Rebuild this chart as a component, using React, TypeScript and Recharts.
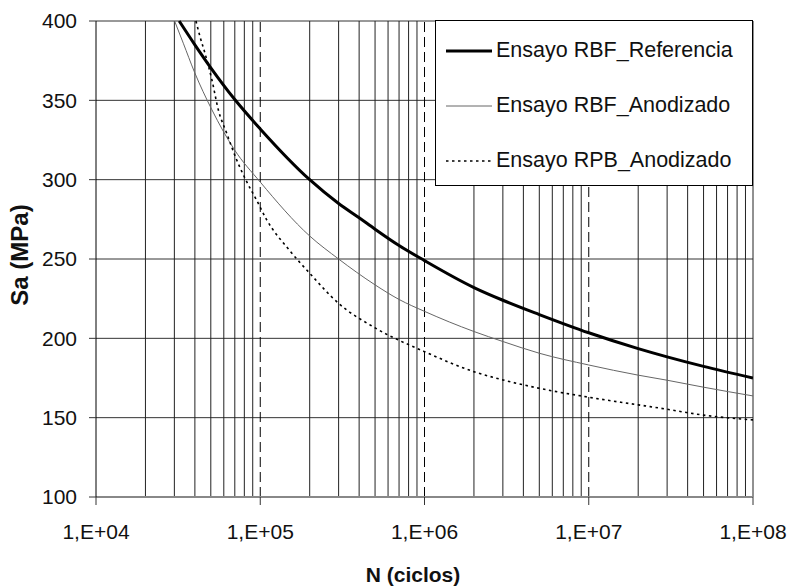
import React from "react";
import {
  LineChart,
  Line,
  XAxis,
  YAxis,
  CartesianGrid,
  ReferenceLine,
  Label,
} from "recharts";

// decade ticks on the log axis
const decadeN = [1e4, 1e5, 1e6, 1e7, 1e8];
const decadeLabels = ["1,E+04", "1,E+05", "1,E+06", "1,E+07", "1,E+08"];
const dashedN = [1e5, 1e6, 1e7];
const minorN = [
  2e4, 3e4, 4e4, 5e4, 6e4, 7e4, 8e4, 9e4,
  2e5, 3e5, 4e5, 5e5, 6e5, 7e5, 8e5, 9e5,
  2e6, 3e6, 4e6, 5e6, 6e6, 7e6, 8e6, 9e6,
  2e7, 3e7, 4e7, 5e7, 6e7, 7e7, 8e7, 9e7,
];
const saTicks = [100, 150, 200, 250, 300, 350, 400];

// Ensayo RBF_Referencia
const refN = [32100, 40000, 50000, 70000, 1e5, 2e5, 3e5, 4e5, 5e5, 7e5, 1e6, 2e6, 3e6, 5e6, 1e7, 2e7, 3e7, 5e7, 1e8];
const refSa = [400, 385, 370.5, 350.5, 332, 300, 285, 276, 268.8, 258.5, 249, 232, 224, 215, 203.5, 193.5, 188.3, 182.3, 175];

// Ensayo RBF_Anodizado
const anoN = [30100, 34000, 39700, 50800, 69500, 1e5, 2e5, 3e5, 5e5, 7e5, 1e6, 2e6, 3e6, 5e6, 1e7, 2e7, 3e7, 5e7, 1e8];
const anoSa = [400, 386, 368, 344, 319, 298.5, 264.5, 250, 233.7, 224.5, 217, 204.3, 198, 190.6, 183.2, 176.8, 173.6, 169.2, 163.7];

// Ensayo RPB_Anodizado
const rpbN = [40600, 43000, 46100, 50800, 55600, 62500, 71900, 82700, 95100, 109600, 1.5e5, 2e5, 3e5, 5e5, 1e6, 2e6, 3e6, 5e6, 1e7, 3e7, 5e7, 1e8];
const rpbSa = [400, 390, 379.6, 362.8, 343.9, 329.2, 312.4, 298.7, 287, 274.6, 255.7, 241, 222, 206.6, 191.6, 179, 173.8, 168.5, 162.9, 155.3, 151.6, 148.6];

const toRows = (ns: number[], vals: number[]) => ns.map((n, i) => ({ n, sa: vals[i] }));

const refData = toRows(refN, refSa);
const anoData = toRows(anoN, anoSa);
const rpbData = toRows(rpbN, rpbSa);

const font = "'Liberation Sans', Arial, sans-serif";

const series = [
  { name: "Ensayo RBF_Referencia", stroke: "#000", width: 3, dash: undefined as string | undefined },
  { name: "Ensayo RBF_Anodizado", stroke: "#666", width: 1, dash: undefined as string | undefined },
  { name: "Ensayo RPB_Anodizado", stroke: "#000", width: 1.6, dash: "2.5 3.5" },
];

function LegendBox() {
  return (
    <div
      style={{
        position: "absolute",
        left: 435,
        top: 20,
        width: 318,
        height: 166,
        border: "1px solid #000",
        background: "#fff",
        boxSizing: "border-box",
        fontFamily: font,
        fontSize: 21.5,
        color: "#111",
        paddingTop: 2,
      }}
    >
      {series.map((s) => (
        <div key={s.name} style={{ display: "flex", alignItems: "center", height: 55 }}>
          <svg width={60} height={10} style={{ marginLeft: 9 }}>
            <line x1={1} x2={47} y1={5} y2={5} stroke={s.stroke} strokeWidth={s.width} strokeDasharray={s.dash} />
          </svg>
          <span style={{ marginLeft: -9 }}>{s.name}</span>
        </div>
      ))}
    </div>
  );
}

export default function App() {
  return (
    <div style={{ position: "absolute", left: 0, top: 0, width: 790, height: 588, background: "#fff" }}>
      <LineChart width={790} height={588} margin={{ top: 21, right: 37, bottom: 0, left: 0 }}>
        <CartesianGrid vertical={false} stroke="#333" strokeWidth={1} />
        {minorN.map((v) => (
          <ReferenceLine key={v} x={v} stroke="#222" strokeWidth={1} />
        ))}
        {dashedN.map((v) => (
          <ReferenceLine key={v} x={v} stroke="#000" strokeWidth={1} strokeDasharray="10 5" />
        ))}
        <ReferenceLine x={1e8} stroke="#222" strokeWidth={1} />
        <XAxis
          dataKey="n"
          type="number"
          scale="log"
          domain={[1e4, 1e8]}
          ticks={decadeN}
          allowDataOverflow
          height={91}
          tickSize={8}
          tickMargin={19}
          stroke="#888"
          strokeWidth={2}
          tickLine={{ stroke: "#333", strokeWidth: 1 }}
          tick={{ fontSize: 21, fill: "#111", fontFamily: font }}
          tickFormatter={(v: number) => decadeLabels[decadeN.indexOf(v)] ?? ""}
        >
          <Label
            content={() => (
              <text x={413} y={582} textAnchor="middle" fontFamily={font} fontSize={21} fontWeight="bold" fill="#111">
                N (ciclos)
              </text>
            )}
          />
        </XAxis>
        <YAxis
          type="number"
          domain={[100, 400]}
          ticks={saTicks}
          width={96}
          tickSize={7}
          tickMargin={12}
          stroke="#000"
          tickLine={{ stroke: "#333" }}
          tick={{ fontSize: 21, fill: "#111", fontFamily: font }}
        >
          <Label
            content={() => (
              <text
                x={27.5}
                y={255}
                transform="rotate(-90, 27.5, 255)"
                textAnchor="middle"
                fontFamily={font}
                fontSize={24}
                fontWeight="bold"
                fill="#111"
              >
                Sa (MPa)
              </text>
            )}
          />
        </YAxis>
        <Line
          data={refData}
          dataKey="sa"
          name={series[0].name}
          type="monotone"
          stroke={series[0].stroke}
          strokeWidth={series[0].width}
          dot={false}
          isAnimationActive={false}
        />
        <Line
          data={anoData}
          dataKey="sa"
          name={series[1].name}
          type="monotone"
          stroke={series[1].stroke}
          strokeWidth={series[1].width}
          dot={false}
          isAnimationActive={false}
        />
        <Line
          data={rpbData}
          dataKey="sa"
          name={series[2].name}
          type="monotone"
          stroke={series[2].stroke}
          strokeWidth={series[2].width}
          strokeDasharray={series[2].dash}
          dot={false}
          isAnimationActive={false}
        />
      </LineChart>
      <LegendBox />
    </div>
  );
}
